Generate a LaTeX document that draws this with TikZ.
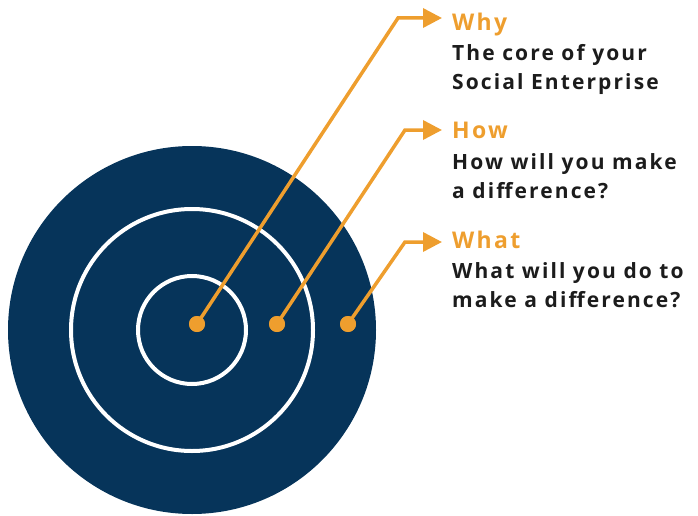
\documentclass[tikz,border=0pt]{standalone}
\usepackage{fontspec}
\setmainfont{Open Sans}[LetterSpace=10]
\usetikzlibrary{
    positioning,   % Relative positioning
    arrows.meta    % Modern arrow tips
}

\definecolor{targetblue}{HTML}{06345A}
\definecolor{pointorange}{HTML}{EE9E2E}
\definecolor{inkblack}{HTML}{1C1C1C}

\begin{document}
\begin{tikzpicture}[x=1pt, y=-1pt,
    ring/.style={draw=white, line width=4pt},
    spot/.style={circle, fill=pointorange, inner sep=0pt, minimum size=16pt},
    pointer/.style={draw=pointorange, line width=3.5pt, shorten >=10pt,
        -{Triangle[length=19pt, width=19pt]}},
    head/.style={anchor=base west, inner sep=0pt, text=pointorange,
        font=\bfseries\fontsize{23}{23}\selectfont},
    body/.style={anchor=north west, align=left, inner sep=0pt, text=inkblack,
        font=\bfseries\fontsize{21}{29.5}\selectfont}]
    \useasboundingbox (0,0) rectangle (698,516);

    % target
    \fill[targetblue] (192,330) circle[radius=184pt];
    \draw[ring] (192,330) circle[radius=121pt];
    \draw[ring] (192,330) circle[radius=54pt];

    % labels
    \node[head] (whyhead) at (452,31) {Why};
    \node[body] (whytext) at (452,44) {The core of your\\Social Enterprise};
    \node[head] (howhead) at (452,139) {How};
    \node[body] (howtext) at (452,153) {How will you make\\a difference?};
    \node[head] (whathead) at (452,248) {What};
    \node[body] (whattext) at (452,262) {What will you do to\\make a difference?};

    % pointers
    \coordinate (whybend) at (398,18);
    \coordinate (howbend) at (405,130);
    \coordinate (whatbend) at (405,242);
    \node[spot] (whyspot) at (197,324) {};
    \node[spot] (howspot) at (277,324) {};
    \node[spot] (whatspot) at (348,324) {};
    \draw[pointer] (whyspot.center) -- (whybend) -- (whybend -| whyhead.west);
    \draw[pointer] (howspot.center) -- (howbend) -- (howbend -| howhead.west);
    \draw[pointer] (whatspot.center) -- (whatbend) -- (whatbend -| whathead.west);
    \node[spot] at (whyspot) {};
    \node[spot] at (howspot) {};
    \node[spot] at (whatspot) {};
\end{tikzpicture}
\end{document}
